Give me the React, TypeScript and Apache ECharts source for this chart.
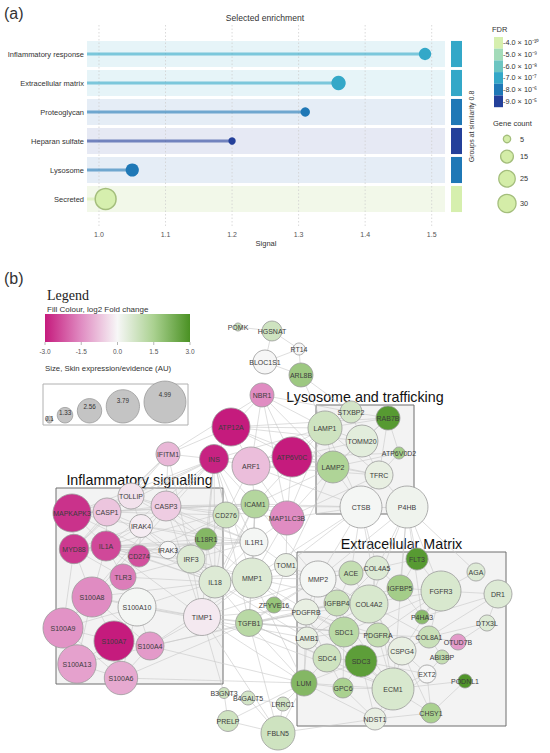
import React, { useEffect, useRef } from 'react';
import * as echarts from 'echarts';

// ---------- Panel (a) data ----------
const CATEGORIES = ['Inflammatory response', 'Extracellular matrix', 'Proteoglycan', 'Heparan sulfate', 'Lysosome', 'Secreted'];
const SIGNAL = [1.49, 1.36, 1.31, 1.2, 1.05, 1.01];
const GENE_COUNT = [14, 19, 8, 5, 16, 40];
const FDR = [7e-7, 7e-7, 8e-6, 9e-5, 8e-6, 4e-10];
const X_TICKS = [1.0, 1.1, 1.2, 1.3, 1.4, 1.5];
const FDR_LEGEND_VALUES = [4e-10, 5e-9, 6e-8, 7e-7, 8e-6, 9e-5];
const FDR_LEGEND_LABELS = ['-4.0 × 10⁻¹⁰', '-5.0 × 10⁻⁹', '-6.0 × 10⁻⁸', '-7.0 × 10⁻⁷', '-8.0 × 10⁻⁶', '-9.0 × 10⁻⁵'];
const GENE_COUNT_LEGEND = [5, 15, 25, 30];

// ---------- Panel (b) data ----------
const FC_TICKS = [-3, -1.5, 0, 1.5, 3];
const EXPR_LEGEND = [0.1, 1.33, 2.56, 3.79, 4.99];
// name, layout x, layout y, log2 fold change, skin expression (AU)
const NODES: [string, number, number, number, number][] = [
  ['POMK', 238, 327, 0.9, 0.28],
  ['HGSNAT', 272, 331, 0.8, 1.94],
  ['RT14', 299, 349, 0.0, 0.83],
  ['BLOC1S1', 265, 362, 0.02, 2.5],
  ['ARL8B', 301, 375, 1.7, 2.5],
  ['NBR1', 262, 395, -1.5, 2.5],
  ['ATP12A', 231, 427, -3.0, 4.44],
  ['STXBP2', 351, 412, 0.7, 2.22],
  ['RAB7B', 388, 418, 2.8, 2.5],
  ['LAMP1', 325, 428, 0.8, 3.89],
  ['TOMM20', 362, 441, 0.4, 3.61],
  ['ATP6V0D2', 399, 453, 1.6, 0.83],
  ['ATP6V0C', 292, 457, -3.0, 4.72],
  ['INS', 214, 459, -2.9, 3.19],
  ['ARF1', 251, 466, -0.8, 4.44],
  ['LAMP2', 333, 467, 1.4, 3.61],
  ['TFRC', 379, 475, 0.3, 3.06],
  ['CTSB', 361, 507, 0.05, 4.99],
  ['P4HB', 407, 507, 0.15, 4.99],
  ['MAP1LC3B', 287, 518, -1.5, 3.89],
  ['IFITM1', 168, 454, -0.9, 2.5],
  ['TOLLIP', 131, 496, -0.3, 2.78],
  ['CASP3', 166, 506, -0.6, 3.33],
  ['MAPKAPK3', 72, 513, -2.7, 4.44],
  ['CASP1', 107, 512, -0.7, 3.06],
  ['IRAK4', 141, 526, -0.15, 2.36],
  ['CD276', 226, 515, 0.8, 2.78],
  ['ICAM1', 255, 504, 1.3, 3.06],
  ['IL18R1', 206, 539, 2.1, 2.22],
  ['IL1R1', 254, 542, 0.05, 3.06],
  ['MYD88', 74, 549, -2.6, 3.25],
  ['IL1A', 106, 546, -2.4, 3.33],
  ['CD274', 139, 556, -2.3, 2.22],
  ['IRAK3', 168, 550, 0.0, 1.58],
  ['IRF3', 191, 559, 0.5, 3.06],
  ['TOM1', 286, 565, 0.3, 2.36],
  ['TLR3', 123, 577, -1.7, 2.78],
  ['IL18', 215, 582, 0.5, 3.61],
  ['MMP1', 252, 578, 0.5, 4.72],
  ['S100A8', 92, 597, -1.5, 4.72],
  ['S100A10', 137, 607, 0.05, 4.44],
  ['ZFYVE16', 274, 605, 1.8, 1.39],
  ['TIMP1', 202, 617, -0.2, 4.3],
  ['TGFB1', 249, 623, 1.2, 2.9],
  ['S100A9', 63, 628, -1.4, 4.72],
  ['S100A7', 114, 641, -3.0, 4.72],
  ['S100A4', 150, 646, -1.3, 3.06],
  ['S100A13', 77, 664, -1.2, 4.5],
  ['S100A6', 121, 678, -1.1, 3.8],
  ['B3GNT3', 224, 693, 0.8, 0.69],
  ['B4GALT5', 248, 698, 0.7, 1.11],
  ['LRRC1', 283, 704, 0.7, 1.11],
  ['PRELP', 228, 721, 0.8, 2.08],
  ['FBLN5', 278, 733, 0.8, 3.89],
  ['LUM', 304, 683, 2.1, 2.78],
  ['FLT3', 417, 559, 2.8, 2.22],
  ['AGA', 476, 572, 0.5, 1.67],
  ['MMP2', 318, 579, 0.05, 4.17],
  ['ACE', 351, 573, 1.0, 2.5],
  ['COL4A5', 377, 568, 0.5, 2.5],
  ['IGFBP5', 400, 588, 1.6, 2.78],
  ['FGFR3', 441, 591, 0.6, 4.72],
  ['DR1', 498, 594, 0.5, 3.06],
  ['IGFBP4', 337, 603, 0.9, 2.78],
  ['COL4A2', 369, 604, 0.6, 4.44],
  ['PDGFRB', 306, 612, 0.3, 2.78],
  ['P4HA3', 422, 617, 2.0, 1.11],
  ['DTX3L', 487, 623, 0.5, 1.39],
  ['SDC1', 344, 632, 1.2, 3.33],
  ['PDGFRA', 378, 635, 1.0, 2.5],
  ['COL8A1', 429, 637, 0.9, 2.22],
  ['OTUD7B', 458, 642, -1.3, 1.39],
  ['LAMB1', 307, 638, 0.3, 2.22],
  ['CSPG4', 402, 651, 0.3, 3.06],
  ['ABI3BP', 442, 657, 1.0, 1.11],
  ['SDC4', 327, 658, 0.8, 3.06],
  ['SDC3', 361, 661, 2.7, 3.61],
  ['EXT2', 427, 674, 0.0, 1.67],
  ['PODNL1', 465, 681, 2.9, 1.11],
  ['GPC6', 343, 688, 1.5, 1.94],
  ['ECM1', 393, 689, 0.6, 4.99],
  ['CHSY1', 431, 713, 1.5, 1.94],
  ['NDST1', 375, 719, 0.3, 2.22],
];

const EDGE_LIST = `
POMK-HGSNAT HGSNAT-RT14 HGSNAT-BLOC1S1 RT14-BLOC1S1 BLOC1S1-ARL8B RT14-ARL8B ARL8B-LAMP1 ARL8B-STXBP2 NBR1-ATP12A NBR1-LAMP1 NBR1-ARF1 NBR1-MAP1LC3B NBR1-ATP6V0C NBR1-IFITM1 NBR1-STXBP2 NBR1-LAMP2
LAMP1-LAMP2 LAMP1-TOMM20 LAMP1-STXBP2 LAMP1-RAB7B LAMP1-TFRC LAMP1-CTSB LAMP1-ATP6V0C LAMP1-ATP12A LAMP1-ARF1 LAMP1-INS LAMP1-MAP1LC3B LAMP2-TFRC LAMP2-CTSB LAMP2-TOMM20 LAMP2-ATP6V0C LAMP2-MAP1LC3B LAMP2-ATP12A LAMP2-ARF1 LAMP2-RAB7B STXBP2-RAB7B STXBP2-TOMM20 RAB7B-ATP6V0D2 RAB7B-TOMM20 RAB7B-TFRC TOMM20-TFRC TOMM20-ATP6V0C TFRC-CTSB TFRC-P4HB CTSB-P4HB ATP6V0D2-TFRC ATP6V0D2-ATP6V0C ATP6V0D2-LAMP2
ATP6V0C-ATP12A ATP6V0C-ARF1 ATP6V0C-INS ATP6V0C-TFRC ATP6V0C-MAP1LC3B ATP12A-INS ATP12A-ARF1 ATP12A-TOMM20 ATP12A-RAB7B ATP12A-IFITM1 ARF1-INS ARF1-MAP1LC3B ARF1-ICAM1 ARF1-TFRC ARF1-CD276 ARF1-CTSB
INS-IFITM1 INS-CASP3 INS-ICAM1 INS-IL18 INS-MMP1 INS-TIMP1 INS-IL1R1 INS-TGFB1 INS-CD276 INS-MAPKAPK3 INS-IL1A INS-TOLLIP INS-CASP1 INS-IL18R1 INS-S100A8
IFITM1-TOLLIP IFITM1-CASP3 IFITM1-IRF3 IFITM1-MYD88 IFITM1-CASP1
MAPKAPK3-CASP1 MAPKAPK3-MYD88 MAPKAPK3-IL1A MAPKAPK3-TOLLIP MAPKAPK3-IRAK4 MAPKAPK3-ICAM1 MAPKAPK3-IL18 CASP1-IL1A CASP1-MYD88 CASP1-CASP3 CASP1-IRAK4 CASP1-TOLLIP CASP1-IL18 CASP1-CD276 CASP1-ICAM1 TOLLIP-IRAK4 TOLLIP-MYD88 TOLLIP-IL1R1 TOLLIP-CASP3 TOLLIP-IL18R1 CASP3-IRAK4 CASP3-ICAM1 CASP3-CD276 CASP3-IL18 CASP3-IL1R1 CASP3-MMP1 CASP3-MAP1LC3B CASP3-CTSB CASP3-TIMP1 IRAK4-MYD88 IRAK4-IRAK3 IRAK4-IL1A IRAK4-IL1R1 IRAK4-IL18R1 IRAK4-IRF3 IRAK4-CD274
MYD88-IL1A MYD88-TLR3 MYD88-IRAK3 MYD88-IL18R1 MYD88-IL1R1 MYD88-S100A8 MYD88-S100A9 MYD88-CD274 IL1A-CD274 IL1A-TLR3 IL1A-IL1R1 IL1A-S100A8 IL1A-MMP1 IL1A-IL18 IL1A-IRAK3 IL1A-ICAM1 IL1A-TIMP1 CD274-IRAK3 CD274-TLR3 CD274-CD276 CD274-IRF3 CD274-IL18 TLR3-IRF3 TLR3-S100A8 TLR3-S100A10 TLR3-IL18 IRAK3-IL1R1 IRAK3-IRF3 IRAK3-IL18R1
S100A8-S100A9 S100A8-S100A7 S100A8-S100A10 S100A8-S100A13 S100A8-S100A4 S100A9-S100A7 S100A9-S100A13 S100A9-S100A10 S100A9-S100A6 S100A7-S100A10 S100A7-S100A13 S100A7-S100A6 S100A7-S100A4 S100A10-S100A4 S100A10-S100A6 S100A13-S100A6 S100A4-S100A6 S100A4-TIMP1 S100A4-MMP1 S100A10-TIMP1 S100A8-TIMP1 S100A6-TGFB1 S100A4-PDGFRB S100A10-LAMB1 S100A4-LUM S100A6-LUM S100A8-MMP1 S100A10-IL18 S100A13-TGFB1 S100A9-CASP3
ICAM1-CD276 ICAM1-IL1R1 ICAM1-MMP1 ICAM1-IL18 ICAM1-TGFB1 ICAM1-MAP1LC3B ICAM1-LAMP2 ICAM1-CTSB ICAM1-TIMP1 ICAM1-MMP2 ICAM1-LAMP1 IL18R1-IL18 IL18R1-IL1R1 IL18R1-IRF3 IL1R1-IL18 IL1R1-MMP1 IL1R1-TOM1 IL1R1-IRF3 IRF3-IL18 IRF3-TIMP1 IRF3-MMP1 IL18-MMP1 IL18-TIMP1 IL18-TGFB1 IL18-LAMB1 MMP1-TIMP1 MMP1-TGFB1 MMP1-MMP2 MMP1-TOM1 MMP1-ECM1 MMP1-COL4A2 MMP1-LUM MMP1-SDC1 MMP1-CTSB MMP1-COL4A5 TIMP1-MMP2 TIMP1-TGFB1 TIMP1-ECM1 TIMP1-LUM TIMP1-COL4A2 TIMP1-SDC1 TIMP1-B3GNT3 TIMP1-FBLN5 TGFB1-SDC1 TGFB1-PDGFRB TGFB1-LUM TGFB1-FBLN5 TGFB1-ZFYVE16 TGFB1-IGFBP4 TGFB1-ECM1 TGFB1-MMP2 TGFB1-SDC4 TGFB1-PDGFRA TGFB1-FGFR3 ZFYVE16-TOM1 ZFYVE16-PDGFRB ZFYVE16-MMP2 TOM1-MMP2 TOM1-LAMP2 MAP1LC3B-CTSB MAP1LC3B-TOM1 MAP1LC3B-MMP1 MAP1LC3B-TFRC MAP1LC3B-IL1R1 CD276-IL1R1 CD276-IL18 CD276-IRF3
CTSB-MMP2 CTSB-ACE CTSB-COL4A5 CTSB-TOM1 CTSB-ECM1 P4HB-COL4A2 P4HB-FLT3 P4HB-IGFBP5 P4HB-COL4A5 P4HB-P4HA3 P4HB-MMP2 P4HB-ECM1 P4HB-FGFR3 P4HB-AGA
MMP2-ACE MMP2-COL4A2 MMP2-PDGFRB MMP2-IGFBP4 MMP2-SDC1 MMP2-LAMB1 MMP2-COL4A5 MMP2-ECM1 ACE-COL4A5 ACE-COL4A2 ACE-IGFBP4 COL4A5-COL4A2 COL4A5-IGFBP5 COL4A5-LAMB1 COL4A5-FLT3 COL4A2-IGFBP4 COL4A2-IGFBP5 COL4A2-PDGFRA COL4A2-SDC1 COL4A2-LAMB1 COL4A2-ECM1 COL4A2-COL8A1 COL4A2-CSPG4 IGFBP5-FGFR3 IGFBP5-P4HA3 IGFBP5-IGFBP4 IGFBP5-FLT3 IGFBP4-PDGFRB IGFBP4-SDC1 PDGFRB-PDGFRA PDGFRB-LAMB1 PDGFRB-SDC1 PDGFRB-SDC4 SDC1-SDC4 SDC1-SDC3 SDC1-PDGFRA SDC1-LAMB1 SDC1-GPC6 SDC1-FGFR3 SDC4-SDC3 SDC4-LAMB1 SDC4-LUM SDC4-GPC6 SDC3-GPC6 SDC3-PDGFRA SDC3-ECM1 SDC3-CSPG4 SDC3-EXT2 SDC3-NDST1 SDC3-LUM PDGFRA-CSPG4 PDGFRA-FGFR3 PDGFRA-COL8A1 CSPG4-COL8A1 CSPG4-ECM1 CSPG4-EXT2 CSPG4-FGFR3 CSPG4-CHSY1 FGFR3-FLT3 FGFR3-AGA FGFR3-COL8A1 FGFR3-P4HA3 FGFR3-DR1 DR1-DTX3L DR1-COL8A1 DTX3L-COL8A1 COL8A1-ABI3BP COL8A1-OTUD7B OTUD7B-DTX3L ABI3BP-EXT2 EXT2-CHSY1 EXT2-NDST1 EXT2-ECM1 ECM1-NDST1 ECM1-GPC6 ECM1-CHSY1 ECM1-LUM ECM1-PODNL1 NDST1-GPC6 NDST1-CHSY1 NDST1-LUM NDST1-FBLN5 LUM-FBLN5 LUM-LRRC1 LUM-LAMB1 LUM-PDGFRB LUM-GPC6 LUM-PRELP FBLN5-PRELP FBLN5-LRRC1 FBLN5-B4GALT5 PRELP-B3GNT3 B3GNT3-B4GALT5 B4GALT5-LRRC1 PODNL1-CHSY1 DR1-P4HA3
`;
const EDGES: [string, string][] = EDGE_LIST.trim().split(/\s+/).map((e) => e.split('-') as [string, string]);

// cluster boxes: title, x0, y0, x1, y1 (layout coordinates)
const CLUSTERS: [string, number, number, number, number][] = [
  ['Inflammatory signalling', 56, 488, 223, 684],
  ['Lysosome and trafficking', 316, 405, 414, 514],
  ['Extracellular Matrix', 297, 552, 506, 726],
];

// ---------- helpers / styles ----------
const FONT = 'Liberation Sans, Arial, sans-serif';
const FDR_COLORS = ['#d6efae', '#a3dbb9', '#6cc5c2', '#34a8c8', '#1f78b6', '#24409a'];
const FC_STOPS: [number, string][] = [[-3, '#c51b7d'], [-1.5, '#e08cc2'], [0, '#f7f7f7'], [1.5, '#aad190'], [3, '#4a9123']];
const X_MIN = 0.982;
const X_MAX = 1.52;

function fdrIndex(f: number) {
  let best = 0;
  let bd = Infinity;
  FDR_LEGEND_VALUES.forEach((v, i) => {
    const d = Math.abs(Math.log10(v) - Math.log10(f));
    if (d < bd) { bd = d; best = i; }
  });
  return best;
}
const fdrColor = (f: number) => FDR_COLORS[fdrIndex(f)];
const sizeOf = (n: number) => 3.3 * Math.sqrt(n);
const rOf = (expr: number) => 3 + 3.6 * expr;

function hex(h: string) {
  return [parseInt(h.slice(1, 3), 16), parseInt(h.slice(3, 5), 16), parseInt(h.slice(5, 7), 16)];
}
function fcColor(v: number) {
  const x = Math.max(-3, Math.min(3, v));
  for (let i = 0; i < FC_STOPS.length - 1; i++) {
    const [a, ca] = FC_STOPS[i];
    const [b, cb] = FC_STOPS[i + 1];
    if (x >= a && x <= b) {
      const t = (x - a) / (b - a);
      const A = hex(ca);
      const B = hex(cb);
      const c = A.map((u, k) => Math.round(u + (B[k] - u) * t));
      return `rgb(${c[0]},${c[1]},${c[2]})`;
    }
  }
  return FC_STOPS[FC_STOPS.length - 1][1];
}

const BAND_COLORS = ['#e6f4f8', '#e6f4f8', '#e5edf6', '#e6e9f4', '#e5edf6', '#f2f8e9'];

function buildOption() {
  const graphic: any[] = [];
  const txt = (text: string, x: number, y: number, fontSize: number, extra: any = {}) => ({
    type: 'text', x, y, silent: true,
    style: { text, fontSize, fontFamily: FONT, fill: '#333', align: 'left', verticalAlign: 'middle', ...extra },
  });

  // panel labels and title
  graphic.push(txt('(a)', 4, 13, 16, { fill: '#333' }));
  graphic.push(txt('Selected enrichment', 265, 18, 8.6, { align: 'center' }));
  graphic.push(txt('(b)', 4, 278, 16, { fill: '#333' }));

  // FDR legend
  graphic.push(txt('FDR', 492, 29, 7.5));
  const bh = 11.7;
  FDR_LEGEND_LABELS.forEach((lab, i) => {
    graphic.push({ type: 'rect', silent: true, shape: { x: 494, y: 37 + i * bh, width: 9, height: bh }, style: { fill: FDR_COLORS[i] } });
    graphic.push(txt(lab, 503, 37 + i * bh + bh / 2, 7.3, { fill: '#333' }));
  });

  // gene count legend
  graphic.push(txt('Gene count', 493, 123, 7.5));
  let cy = 135;
  GENE_COUNT_LEGEND.forEach((n, i) => {
    const r = sizeOf(n) / 2;
    if (i > 0) cy += sizeOf(GENE_COUNT_LEGEND[i - 1]) / 2 + r + 7.5;
    else cy = 139;
    graphic.push({ type: 'circle', silent: true, shape: { cx: 507, cy, r }, style: { fill: '#d4eda8', stroke: '#a4be7c', lineWidth: 1.3 } });
    graphic.push(txt(String(n), 520, cy, 7.3));
  });

  // panel b legend
  graphic.push(txt('Legend', 47, 295, 14, { fontFamily: 'Liberation Serif, DejaVu Serif, serif', fill: '#222' }));
  graphic.push(txt('Fill Colour, log2 Fold change', 47, 309, 8, { fill: '#333' }));
  const gx0 = 45, gx1 = 190, gy0 = 314, gy1 = 342;
  graphic.push({
    type: 'rect', silent: true, shape: { x: gx0, y: gy0, width: gx1 - gx0, height: gy1 - gy0 },
    style: {
      fill: new echarts.graphic.LinearGradient(0, 0, 1, 0, FC_STOPS.map(([v, c]) => ({ offset: (v + 3) / 6, color: c }))),
    },
  });
  FC_TICKS.forEach((v) => {
    const x = gx0 + ((v + 3) / 6) * (gx1 - gx0);
    graphic.push({ type: 'line', silent: true, shape: { x1: x, y1: gy1, x2: x, y2: gy1 + 3 }, style: { stroke: '#888', lineWidth: 0.6 } });
    graphic.push(txt(v.toFixed(1), x, 351, 6.5, { align: 'center', fill: '#555' }));
  });
  graphic.push(txt('Size, Skin expression/evidence (AU)', 45, 368, 7.8, { fill: '#333' }));
  graphic.push({ type: 'rect', silent: true, shape: { x: 43, y: 384, width: 145, height: 41 }, style: { fill: '#fff', stroke: '#b0b0b0', lineWidth: 1 } });
  let cx = 46;
  EXPR_LEGEND.forEach((v, i) => {
    const r = rOf(v);
    cx = i === 0 ? 46 + r : cx + rOf(EXPR_LEGEND[i - 1]) + r + 4.5;
    const ccy = 423 - r;
    graphic.push({ type: 'circle', silent: true, shape: { cx, cy: ccy, r }, style: { fill: '#c4c4c4', stroke: '#9a9a9a', lineWidth: 0.8 } });
    graphic.push(txt(String(v), cx, ccy - r * 0.35, 6.3, { align: 'center', fill: '#333' }));
  });

  const ymin = -1, ymax = 6;

  const series: any[] = [
    // background bands
    {
      type: 'custom', xAxisIndex: 0, yAxisIndex: 0, z: 1, silent: true,
      data: CATEGORIES.map((_, i) => [X_MIN, i]),
      renderItem: (params: any, api: any) => {
        const i = api.value(1);
        const p0 = api.coord([X_MIN, i - 0.45]);
        const p1 = api.coord([X_MAX, i + 0.45]);
        return { type: 'rect', shape: { x: p0[0], y: p0[1], width: p1[0] - p0[0], height: p1[1] - p0[1] }, style: { fill: BAND_COLORS[params.dataIndex] } };
      },
    },
    // dotted grid lines
    {
      type: 'custom', xAxisIndex: 0, yAxisIndex: 0, z: 2, silent: true,
      data: X_TICKS.map((t) => [t, ymin]),
      renderItem: (params: any, api: any) => {
        const t = api.value(0);
        const a = api.coord([t, ymin]);
        const b = api.coord([t, ymax]);
        return { type: 'line', shape: { x1: a[0], y1: a[1], x2: b[0], y2: b[1] }, style: { stroke: '#cfcfcf', lineWidth: 0.8, lineDash: [1.5, 2] } };
      },
    },
    // sticks
    {
      type: 'custom', xAxisIndex: 0, yAxisIndex: 0, z: 3, silent: true,
      data: SIGNAL.map((v, i) => [v, i]),
      renderItem: (params: any, api: any) => {
        const v = api.value(0);
        const i = api.value(1);
        const a = api.coord([X_MIN, i]);
        const b = api.coord([v, i]);
        return { type: 'line', shape: { x1: a[0], y1: a[1], x2: b[0], y2: b[1] }, style: { stroke: fdrColor(FDR[params.dataIndex]), lineWidth: 3, opacity: 0.6 } };
      },
    },
    // bubbles
    {
      type: 'scatter', xAxisIndex: 0, yAxisIndex: 0, z: 4, silent: true,
      data: SIGNAL.map((v, i) => {
        const idx = fdrIndex(FDR[i]);
        return {
          value: [v, i],
          symbolSize: sizeOf(GENE_COUNT[i]),
          itemStyle: { color: FDR_COLORS[idx], opacity: 1, borderColor: idx === 0 ? '#a4be7c' : FDR_COLORS[idx], borderWidth: idx === 0 ? 1.5 : 0 },
        };
      }),
    },
    // group colour bar
    {
      type: 'custom', xAxisIndex: 1, yAxisIndex: 1, z: 2, silent: true,
      data: CATEGORIES.map((_, i) => [0.5, i]),
      renderItem: (params: any, api: any) => {
        const i = api.value(1);
        const p0 = api.coord([0, i - 0.45]);
        const p1 = api.coord([1, i + 0.45]);
        return { type: 'rect', shape: { x: p0[0], y: p0[1], width: p1[0] - p0[0], height: p1[1] - p0[1] }, style: { fill: fdrColor(FDR[params.dataIndex]) } };
      },
    },
    // cluster boxes
    {
      type: 'custom', xAxisIndex: 2, yAxisIndex: 2, z: 1, silent: true,
      data: CLUSTERS.map((c) => [c[1], c[2], c[3], c[4]]),
      renderItem: (params: any, api: any) => {
        const p0 = api.coord([api.value(0), api.value(1)]);
        const p1 = api.coord([api.value(2), api.value(3)]);
        return {
          type: 'group',
          children: [
            { type: 'rect', shape: { x: p0[0], y: p0[1], width: p1[0] - p0[0], height: p1[1] - p0[1] }, style: { fill: '#f3f3f3', stroke: '#6f6f6f', lineWidth: 1 } },
            { type: 'text', x: (p0[0] + p1[0]) / 2, y: p0[1] - 8.5, style: { text: CLUSTERS[params.dataIndex][0], fontSize: 14.3, fontFamily: FONT, fill: '#111', align: 'center', verticalAlign: 'middle' } },
          ],
        };
      },
    },
    // network
    {
      type: 'graph', coordinateSystem: 'cartesian2d', xAxisIndex: 2, yAxisIndex: 2, layout: 'none', z: 3, silent: true,
      symbol: 'circle',
      data: NODES.map(([name, x, y, fc, expr]) => ({
        name, value: [x, y], symbolSize: 2 * rOf(expr),
        itemStyle: { color: fcColor(fc), borderColor: '#9a9a9a', borderWidth: 0.8 },
      })),
      links: EDGES.map(([s, t]) => ({ source: s, target: t })),
      lineStyle: { color: '#c8c8c8', width: 0.6, opacity: 1, curveness: 0 },
      label: { show: true, position: 'inside', fontSize: 7, color: '#3c3c3c', fontFamily: FONT, formatter: '{b}' },
      emphasis: { disabled: true },
    },
  ];

  return {
    animation: false,
    backgroundColor: '#fff',
    textStyle: { fontFamily: FONT },
    grid: [
      { left: 87, top: 25, width: 358, height: 203 },
      { left: 451, top: 25, width: 11, height: 203 },
      { left: 0, top: 0, width: 550, height: 753 },
    ],
    xAxis: [
      {
        gridIndex: 0, type: 'value', min: X_MIN, max: X_MAX, splitNumber: 5,
        axisLine: { show: false }, axisTick: { show: false }, splitLine: { show: false },
        axisLabel: {
          fontSize: 7, color: '#555', margin: 3, showMinLabel: false, showMaxLabel: false,
          formatter: (v: number) => (X_TICKS.some((t) => Math.abs(t - v) < 1e-6) ? v.toFixed(1) : ''),
        },
        name: 'Signal', nameLocation: 'middle', nameGap: 11, nameTextStyle: { fontSize: 7.5, color: '#333' },
      },
      { gridIndex: 1, type: 'value', min: 0, max: 1, show: false },
      { gridIndex: 2, type: 'value', min: 0, max: 550, show: false },
    ],
    yAxis: [
      {
        gridIndex: 0, type: 'value', min: ymin, max: ymax, interval: 1, inverse: true,
        axisLine: { show: false }, axisTick: { show: false }, splitLine: { show: false },
        axisLabel: {
          fontSize: 7.5, color: '#333', margin: 3,
          formatter: (v: number) => (Number.isInteger(v) && v >= 0 && v < CATEGORIES.length ? CATEGORIES[v] : ''),
        },
      },
      {
        gridIndex: 1, type: 'value', min: ymin, max: ymax, inverse: true, position: 'right',
        axisLine: { show: false }, axisTick: { show: false }, axisLabel: { show: false }, splitLine: { show: false },
        name: 'Groups at similarity 0.8', nameLocation: 'middle', nameGap: 6, nameRotate: 90,
        nameTextStyle: { fontSize: 7, color: '#333' },
      },
      { gridIndex: 2, type: 'value', min: 0, max: 753, inverse: true, show: false },
    ],
    graphic,
    series,
  };
}

export default function App() {
  const ref = useRef<HTMLDivElement>(null);
  useEffect(() => {
    if (!ref.current) return;
    const chart = echarts.init(ref.current, null, { renderer: 'svg' });
    chart.setOption(buildOption() as any);
    return () => chart.dispose();
  }, []);
  return <div ref={ref} style={{ position: 'absolute', left: 0, top: 0, width: 550, height: 753, background: '#fff' }} />;
}
